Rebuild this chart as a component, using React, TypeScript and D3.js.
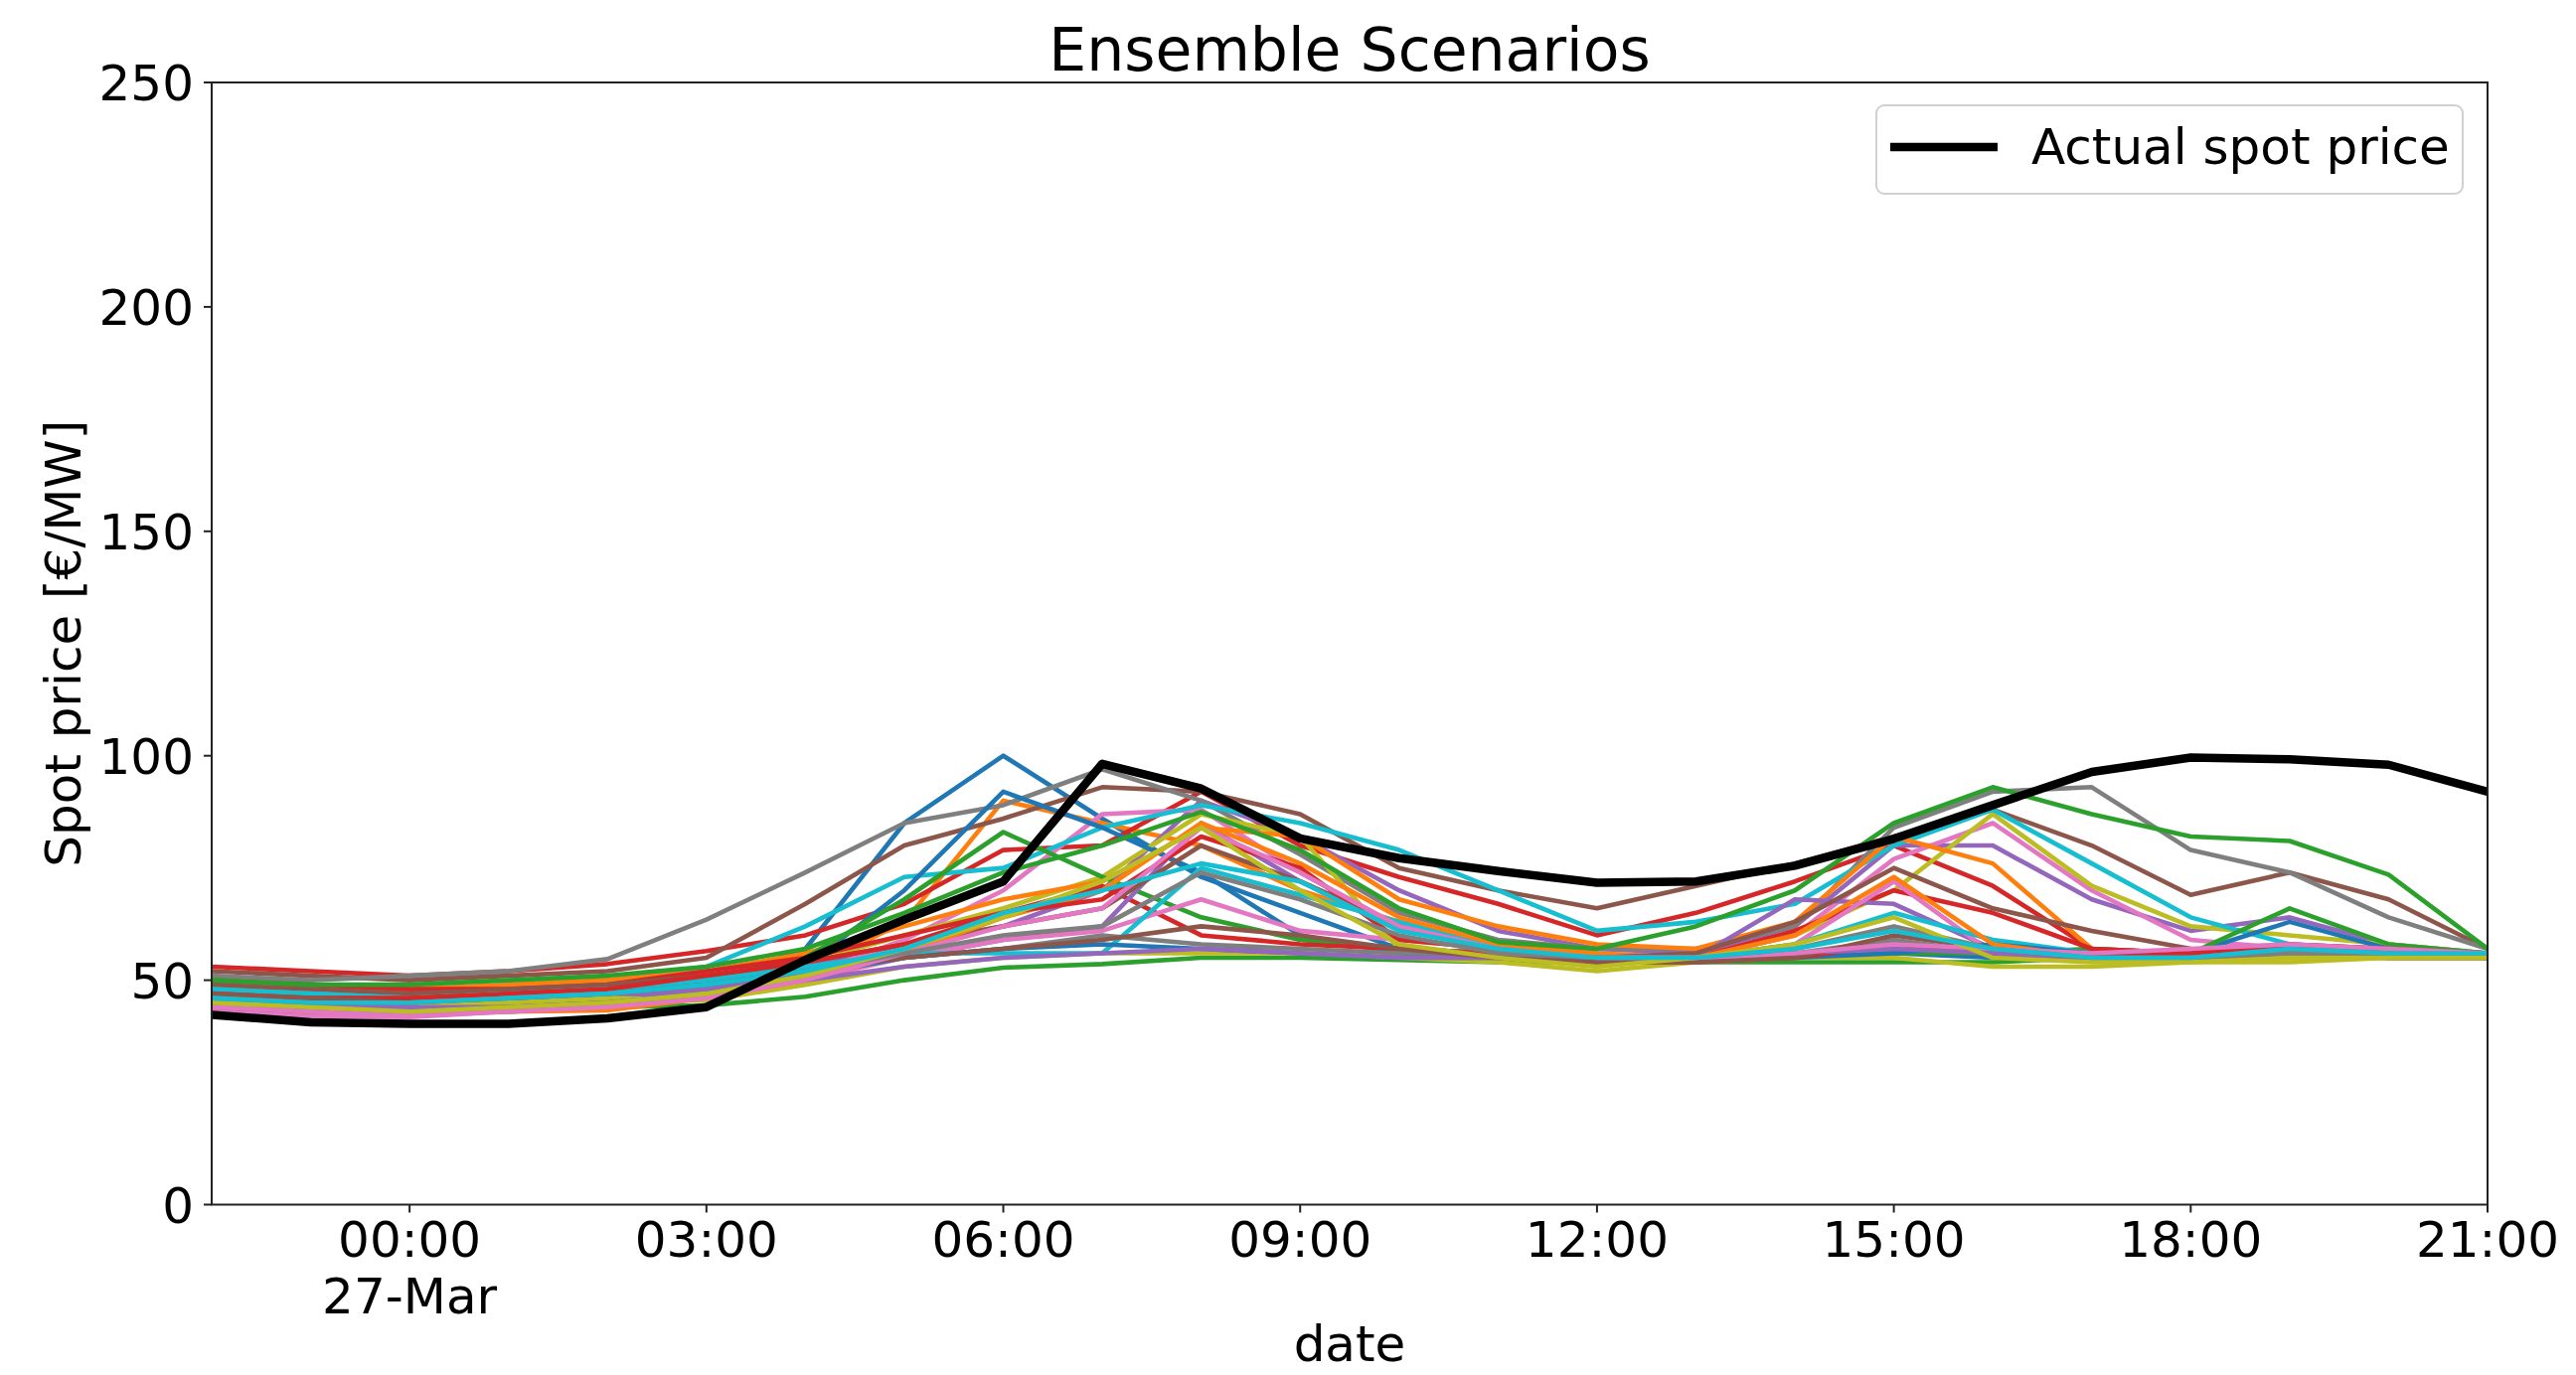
import * as d3 from "d3";

// hourly timestamps (UTC) from 26-Mar 22:00 to 27-Mar 21:00
const timestamps = [
  "2022-03-26T22:00Z", "2022-03-26T23:00Z", "2022-03-27T00:00Z", "2022-03-27T01:00Z",
  "2022-03-27T02:00Z", "2022-03-27T03:00Z", "2022-03-27T04:00Z", "2022-03-27T05:00Z",
  "2022-03-27T06:00Z", "2022-03-27T07:00Z", "2022-03-27T08:00Z", "2022-03-27T09:00Z",
  "2022-03-27T10:00Z", "2022-03-27T11:00Z", "2022-03-27T12:00Z", "2022-03-27T13:00Z",
  "2022-03-27T14:00Z", "2022-03-27T15:00Z", "2022-03-27T16:00Z", "2022-03-27T17:00Z",
  "2022-03-27T18:00Z", "2022-03-27T19:00Z", "2022-03-27T20:00Z", "2022-03-27T21:00Z",
];

const actualPrice = [
  42.3, 40.6, 40.3, 40.3, 41.5, 44.0, 54.5, 63.5, 72.0, 98.2, 92.7, 81.6,
  77.2, 74.3, 71.7, 72.0, 75.5, 81.5, 89.0, 96.4, 99.6, 99.2, 98.0, 92.0,
];

// ensemble scenarios, colours cycle through tab10 in this order
const scenarios: number[][] = [
  [47, 45, 44, 45, 46, 49, 57, 85, 100, 86, 73, 65, 57, 56, 55, 55, 55, 56, 55, 56, 56, 58, 57, 56],
  [47, 45, 44, 45, 46, 48, 52, 63, 90, 85, 80, 70, 63, 58, 56, 55, 55, 56, 57, 55, 55, 56, 56, 56],
  [45, 44, 43, 43, 44, 44.4, 46.3, 50, 52.8, 53.6, 55, 55, 54.5, 54, 54, 54, 54, 54, 54, 55, 55, 55, 55, 55],
  [53, 52, 51, 52, 53.6, 56.5, 60, 67, 79, 80, 92, 80, 73, 67, 60, 65, 72, 80, 71, 57, 56, 56, 56, 56],
  [46, 45, 45, 46, 47, 49, 53, 58, 62, 70, 90, 82, 70, 61, 57, 56, 62, 80, 80, 68, 61, 64, 58, 56],
  [52, 51, 50, 51, 52, 55, 67, 80, 86, 93, 92, 87, 75, 70, 66, 71, 76, 82, 88, 80, 69, 74, 68, 57],
  [45, 44, 43, 44, 45, 47, 51, 59, 70, 87, 88, 74, 62, 57, 55, 55, 60, 77, 85, 70, 59, 57, 57, 56],
  [51, 50, 51, 52, 54.7, 63.5, 74, 85, 89, 97, 90, 78, 65, 59, 57, 57, 62, 84, 92, 93, 79, 74, 64, 57],
  [49, 47, 46, 47, 48, 50, 54, 60, 66, 73, 87, 82, 57, 55, 54, 55, 60, 70, 87, 71, 62, 60, 58, 56],
  [50, 49, 48, 49, 50, 53, 62, 73, 75, 84, 89, 85, 79, 70, 61, 63, 67, 80, 88, 76, 64, 58, 56, 56],
  [45, 44, 44, 45, 46, 48, 53, 70, 92, 84, 74, 60, 56, 55, 55, 55, 55, 56, 57, 55, 56, 63, 57, 56],
  [49, 48, 48, 49, 50, 52, 56, 62, 68, 72, 84, 82, 68, 62, 58, 57, 63, 82, 76, 57, 55, 55, 55, 55],
  [48, 47, 46, 47, 48, 50, 55, 68, 83, 73, 64, 59, 57, 56, 55, 55, 55, 56, 56, 57, 56, 66, 58, 56],
  [50, 49, 48, 48, 49, 52, 55, 60, 65, 71, 60, 58, 57, 56, 55, 55, 61, 70, 65, 57, 56, 56, 55, 55],
  [45, 44, 44, 45, 46, 48, 51, 55, 59, 62, 85, 72, 62, 57, 55, 55, 68, 67, 57, 56, 55, 57, 56, 55],
  [49, 48, 47, 48, 49, 51, 54, 58, 62, 66, 80, 72, 62, 57, 55, 56, 63, 75, 66, 61, 57, 56, 56, 55],
  [43, 42, 41.8, 43, 44, 46, 50, 55, 59, 61, 68, 61, 59, 57, 55, 55, 58, 72, 56, 55, 56, 57, 57, 56],
  [48, 47, 46, 47, 48, 50, 53, 55, 57, 60, 58, 57, 56, 55, 55, 55, 56, 59, 56, 55, 55, 56, 56, 55],
  [47, 46, 45, 45, 46, 45.5, 49, 53, 55, 56, 56, 56, 55, 54, 52, 54, 55, 55, 53, 53, 54, 54, 55, 55],
  [48, 47, 46, 47, 48, 50, 53, 56, 56, 56, 75, 69, 63, 57, 55, 55, 58, 65, 59, 56, 55, 56, 56, 56],
  [44, 43, 43, 44, 45, 47, 51, 55, 57, 58, 57, 56, 55, 55, 54, 55, 55, 56, 58, 56, 55, 57, 56, 56],
  [44, 43, 42.5, 43, 43.3, 46, 50, 56, 64, 70, 85, 76, 64, 58, 55, 55, 60, 73, 58, 55, 55, 56, 56, 56],
  [50, 49, 49, 50, 51, 53, 57, 65, 74, 80, 87.5, 79, 66, 58.5, 57, 62, 70, 85, 93, 87, 82, 81, 73.5, 57],
  [47, 46, 46, 47, 48, 51, 54, 58, 65, 68, 82, 75, 59, 57, 54, 54, 55, 58, 56, 55, 56, 58, 57, 56],
  [44, 43, 43, 44, 45, 47, 50, 53, 55, 56, 57, 56, 55, 55, 55, 55, 56, 57, 56, 55, 55, 56, 56, 55],
  [47, 46, 45, 46, 47, 49, 52, 55, 57, 59, 62, 60, 57, 55, 54, 54, 55, 60, 57, 55, 55, 56, 55, 55],
  [44, 43, 42, 43, 44, 46, 50, 56, 62, 66, 84, 74, 62, 57, 55, 55, 56, 58, 57, 56, 57, 58, 57, 56],
  [46, 45, 45, 46, 47, 49, 52, 56, 60, 62, 74, 68, 60, 56, 55, 55, 57, 62, 57, 55, 55, 56, 56, 55],
  [45, 44, 43, 44, 45, 47, 51, 57, 64, 72, 84, 70, 58, 55, 53, 55, 58, 64, 55, 54, 54, 55, 55, 55],
  [46, 45, 45, 46, 47, 49, 52, 57, 65, 70, 76, 72, 61, 57, 55, 55, 57, 61, 57, 55, 55, 57, 56, 56],
];

const yTicks = [0, 50, 100, 150, 200, 250];
const xTickHours = ["2022-03-27T00:00Z", "2022-03-27T03:00Z", "2022-03-27T06:00Z", "2022-03-27T09:00Z",
  "2022-03-27T12:00Z", "2022-03-27T15:00Z", "2022-03-27T18:00Z", "2022-03-27T21:00Z"];

const tab10 = d3.schemeCategory10;

const W = 2592;
const H = 1384;
const left = 213;
const right = 2503;
const top = 83;
const bottom = 1212.5;
const font = "DejaVu Sans, Liberation Sans, sans-serif";

const App = () => {
  const dates = timestamps.map((t) => new Date(t));
  const x = d3.scaleUtc().domain([dates[0], dates[dates.length - 1]]).range([left, right]);
  const y = d3.scaleLinear().domain([0, 250]).range([bottom, top]);

  const line = d3
    .line<number>()
    .x((_, i) => x(dates[i]))
    .y((d) => y(d));

  const fmtTime = d3.utcFormat("%H:%M");
  const fmtDay = d3.utcFormat("%d-%b");

  return (
    <svg
      width={W}
      height={H}
      style={{ position: "absolute", left: 0, top: 0, background: "#fff" }}
      fontFamily={font}
    >
      <rect width={W} height={H} fill="#fff" />
      <defs>
        <clipPath id="plot">
          <rect x={left} y={top} width={right - left} height={bottom - top} />
        </clipPath>
      </defs>

      <g clipPath="url(#plot)" fill="none" strokeLinejoin="round" strokeLinecap="square">
        {scenarios.map((s, i) => (
          <path key={i} d={line(s) || ""} stroke={tab10[i % 10]} strokeWidth={4.6} />
        ))}
        <path d={line(actualPrice) || ""} stroke="#000" strokeWidth={8.5} />
      </g>

      {/* axes frame */}
      <rect x={left} y={top} width={right - left} height={bottom - top} fill="none" stroke="#222" strokeWidth={2} />

      {/* y axis */}
      {yTicks.map((t) => (
        <g key={t}>
          <line x1={left - 8} x2={left} y1={y(t)} y2={y(t)} stroke="#222" strokeWidth={2} />
          <text x={left - 18} y={y(t)} dy="0.36em" textAnchor="end" fontSize={50}>
            {t}
          </text>
        </g>
      ))}

      {/* x axis */}
      {xTickHours.map((t) => {
        const d = new Date(t);
        const px = x(d);
        const midnight = d.getUTCHours() === 0;
        return (
          <g key={t}>
            <line x1={px} x2={px} y1={bottom} y2={bottom + 8} stroke="#222" strokeWidth={2} />
            <text x={px} y={1265} textAnchor="middle" fontSize={50}>
              {fmtTime(d)}
            </text>
            {midnight && (
              <text x={px} y={1322} textAnchor="middle" fontSize={50}>
                {fmtDay(d)}
              </text>
            )}
          </g>
        );
      })}

      <text x={(left + right) / 2} y={71} textAnchor="middle" fontSize={60}>
        Ensemble Scenarios
      </text>
      <text x={(left + right) / 2} y={1370} textAnchor="middle" fontSize={50}>
        date
      </text>
      <text
        transform={`translate(81 ${(top + bottom) / 2}) rotate(-90)`}
        textAnchor="middle"
        fontSize={50}
      >
        Spot price [€/MW]
      </text>

      {/* legend */}
      <g>
        <rect x={1888} y={106} width={590} height={89} rx={8} fill="#fff" fillOpacity={0.8} stroke="#d0d0d0" strokeWidth={2} />
        <line x1={1902} x2={2010} y1={148} y2={148} stroke="#000" strokeWidth={8.5} />
        <text x={2044} y={165} fontSize={50}>
          Actual spot price
        </text>
      </g>
    </svg>
  );
};

export default App;
